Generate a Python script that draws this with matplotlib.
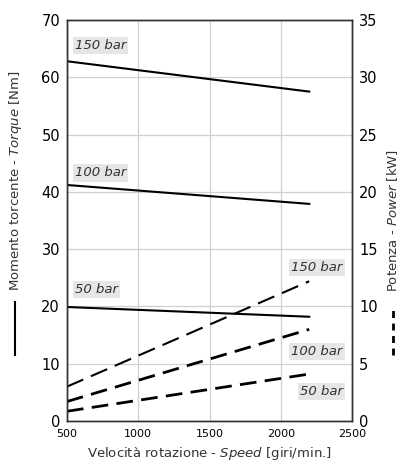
import matplotlib
matplotlib.use("Agg")
import matplotlib.pyplot as plt
from matplotlib.lines import Line2D

speed = [500, 2200]
pressures = ["150 bar", "100 bar", "50 bar"]
torque = {"150 bar": [62.8, 57.5], "100 bar": [41.2, 37.9], "50 bar": [19.9, 18.2]}
power = {"150 bar": [3.0, 12.2], "100 bar": [1.7, 8.0], "50 bar": [0.85, 4.1]}
torque_label_y = {"150 bar": 65.6, "100 bar": 43.3, "50 bar": 22.9}
power_label_y = {"150 bar": 13.4, "100 bar": 6.1, "50 bar": 2.6}
dash_styles = {"150 bar": ((0, (8.5, 4)), 1.5), "100 bar": ((0, (6, 3)), 2.0), "50 bar": ((0, (6, 3)), 2.0)}

fig = plt.figure(figsize=(4.05, 4.75), dpi=100)
ax = fig.add_axes([67 / 405, 54 / 475, 285 / 405, 401 / 475])
ax2 = ax.twinx()

ax.set_xlim(500, 2500)
ax.set_ylim(0, 70)
ax2.set_ylim(0, 35)
ax.set_xticks(range(500, 2501, 500))
ax.set_yticks(range(0, 71, 10))
ax2.set_yticks(range(0, 36, 5))
ax.grid(color="#d0d0d0", linewidth=0.9)
ax.set_axisbelow(True)
for a in (ax, ax2):
    for s in a.spines.values():
        s.set_color("#333333")
        s.set_linewidth(1.0)
ax.tick_params(axis="y", labelsize=10.5, length=0, pad=5)
ax.tick_params(axis="x", labelsize=8, length=0, pad=6)
ax2.tick_params(axis="y", labelsize=10.5, length=0, pad=5)

box = dict(facecolor="#e6e6e6", edgecolor="none", pad=1.5)
for p in pressures:
    ax.plot(speed, torque[p], color="black", linewidth=1.5)
    ax.text(556, torque_label_y[p], p, fontsize=9.5, style="italic",
            color="#333333", va="center", ha="left", bbox=box)
    ls, lw = dash_styles[p]
    ax2.plot(speed, power[p], color="black", linewidth=lw, linestyle=ls)
    ax2.text(2435, power_label_y[p], p, fontsize=9.5, style="italic",
             color="#333333", va="center", ha="right", bbox=box)

ax.set_xlabel("Velocità rotazione - $\\it{Speed}$ [giri/min.]", fontsize=9.5,
              color="#333333", labelpad=4)
fig.text(0.038, 0.62, "Momento torcente - $\\it{Torque}$ [Nm]", rotation=90,
         fontsize=9.5, color="#333333", ha="center", va="center")
fig.text(0.97, 0.535, "Potenza - $\\it{Power}$ [kW]", rotation=90,
         fontsize=9.5, color="#333333", ha="center", va="center")
fig.add_artist(Line2D([0.037, 0.037], [0.253, 0.364], color="black",
                      linewidth=1.5, transform=fig.transFigure))
fig.add_artist(Line2D([0.97, 0.97], [0.253, 0.358], color="black",
                      linewidth=2.0, linestyle=(0, (2.5, 2)), transform=fig.transFigure))

fig.savefig("out.png", dpi=100)
